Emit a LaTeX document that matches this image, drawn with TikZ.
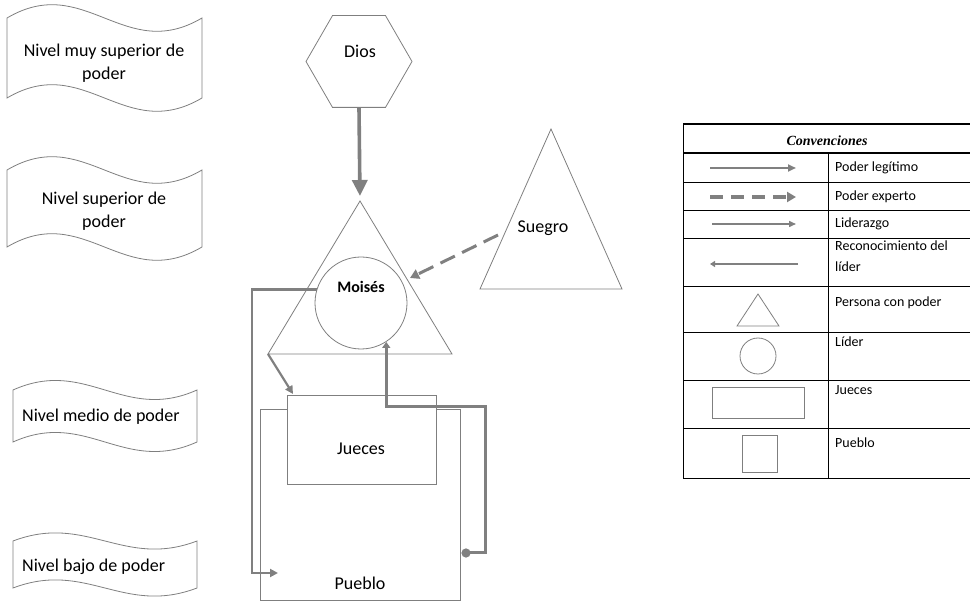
\documentclass[tikz,border=0pt]{standalone}
\usepackage{fontspec}
\setmainfont{Carlito}
\newfontfamily\serifhead{Liberation Serif}
\usetikzlibrary{arrows.meta,shapes.geometric}

\definecolor{linegray}{HTML}{7F7F7F}
\definecolor{arrowgray}{HTML}{808080}

% banner with wavy top and bottom edges: x1, x2, ytop, ybot, wave control offset
\newcommand\tapepath[5]{%
  \draw[outline] (#1,#3) .. controls ({#1+0.4*(#2-#1)},{#3-#5}) and ({#1+0.6*(#2-#1)},{#3+#5}) .. (#2,#3)
    -- (#2,#4) .. controls ({#1+0.6*(#2-#1)},{#4+#5}) and ({#1+0.4*(#2-#1)},{#4-#5}) .. (#1,#4) -- cycle;}

\begin{document}
\begin{tikzpicture}[x=1pt,y=-1pt,
  outline/.style={draw=linegray, line width=0.8pt},
  big/.style={font=\fontsize{18}{23}\selectfont, inner sep=0pt},
  small/.style={font=\fontsize{14}{21}\selectfont, inner sep=0pt, anchor=west},
  heavy/.style={draw=arrowgray, line width=3.6pt, -{Triangle[length=16pt,width=15pt]}},
  legit/.style={draw=arrowgray, line width=2.2pt, -{Triangle[length=8pt,width=8pt]}},
  expert/.style={draw=arrowgray, line width=3pt, dash pattern=on 16pt off 8pt, -{Triangle[length=9pt,width=10pt]}},
  lead/.style={draw=arrowgray, line width=2.2pt, -{Triangle[length=8pt,width=8pt]}},
  recog/.style={draw=arrowgray, line width=3pt, {Circle[length=9pt]}-{Triangle[length=6pt,width=8pt]}},
  gridline/.style={draw=black, line width=0.9pt}
]
\useasboundingbox (0,0) rectangle (970,601);

% ---- power levels
\tapepath{7}{202}{18}{98}{46}
\node[big, align=center] (lvl1) at (104,63.5) {Nivel muy superior de\\poder};
\tapepath{7}{202}{170}{247}{46}
\node[big, align=center] (lvl2) at (104,211) {Nivel superior de\\poder};
\tapepath{13}{197}{390}{442}{33}
\node[big, anchor=west] (lvl3) at (22,417) {Nivel medio de poder};
\tapepath{13}{197}{541}{588}{28}
\node[big, anchor=west] (lvl4) at (22,567) {Nivel bajo de poder};

% ---- Dios
\node[outline, regular polygon, regular polygon sides=6, minimum size=106pt, inner sep=0pt] (dios) at (359,61.5) {};
\node[big] (dios-t) at (360,51) {Dios};

% ---- person with power and the leader inside it
\draw[outline] (360,201) -- (452,354) -- (268,354) -- cycle;
\coordinate (tri-apex) at (360,201);
\coordinate (tri-left) at (268,354);
\coordinate (tri-side) at (410,278);
\node[outline, circle, minimum size=92pt, inner sep=0pt] (moises) at (361,303) {};
\node[font=\fontsize{16}{19}\selectfont\bfseries, inner sep=0pt] (moises-t) at (361,287) {Moisés};

% ---- Suegro
\draw[outline] (551,129) -- (622,289) -- (480,289) -- cycle;
\node[big] (suegro) at (543,228) {Suegro};
\coordinate (suegro-side) at (498,235);

% ---- Pueblo and Jueces
\node[outline, rectangle, minimum width=200pt, minimum height=191pt, inner sep=0pt] (pueblo) at (360,504.5) {};
\node[big] (pueblo-t) at (360,583) {Pueblo};
\node[outline, rectangle, fill=white, minimum width=149pt, minimum height=89pt, inner sep=0pt] (jueces) at (361.5,439.5) {};
\node[big] (jueces-t) at (361,449) {Jueces};

% ---- relations
\coordinate (jueces-in) at (293,394);
\coordinate (lead-bottom) at (252,573);
\coordinate (lead-end) at (278,573);
\coordinate (recon-start) at (461.5,553);
\coordinate (recon-corner) at (485,407);

\draw[heavy, shorten >=5pt] (dios.south) -- (tri-apex);
\draw[legit] (tri-left) -- (jueces-in);
\draw[expert] (suegro-side) -- (tri-side);
\draw[lead] (moises.163) -| (lead-bottom) -- (lead-end);
\draw[recog] (recon-start) -| (recon-corner) -| (moises.-57);

% ---- legend table
\draw[draw=black, line width=1.8pt] (683,124) -- (972,124);
\draw[draw=black, line width=1.4pt] (683,153) -- (972,153);
\foreach \yy in {182,210,238,286,332,380,428,478}
  \draw[gridline] (683,\yy) -- (972,\yy);
\draw[gridline] (683,124) -- (683,478);
\draw[gridline] (828,153) -- (828,478);

\node[font=\serifhead\bfseries\itshape\fontsize{14}{17}\selectfont, inner sep=0pt] (conv) at (827,141) {Convenciones};

\coordinate (lg-a) at (710,168);  \coordinate (lg-b) at (796,168);
\coordinate (ex-a) at (710,197);  \coordinate (ex-b) at (796,197);
\coordinate (ld-a) at (712,224);  \coordinate (ld-b) at (796,224);
\coordinate (rc-a) at (798,264);  \coordinate (rc-b) at (710,264);
\draw[draw=arrowgray, line width=2pt, -{Triangle[length=8pt,width=7pt]}] (lg-a) -- (lg-b);
\draw[draw=arrowgray, line width=3.2pt, dash pattern=on 13pt off 8pt, -{Triangle[length=9pt,width=10pt]}] (ex-a) -- (ex-b);
\draw[draw=arrowgray, line width=1.5pt, -{Triangle[length=7pt,width=6pt]}] (ld-a) -- (ld-b);
\draw[draw=arrowgray, line width=2.5pt, -{Triangle[length=5pt,width=6pt]}] (rc-a) -- (rc-b);

\draw[outline] (758,294) -- (779,326) -- (737,326) -- cycle;
\node[outline, circle, minimum size=36pt, inner sep=0pt] (lg-circ) at (758,356) {};
\node[outline, rectangle, minimum width=92pt, minimum height=31pt, inner sep=0pt] (lg-rect) at (758,402.5) {};
\node[outline, rectangle, minimum width=35pt, minimum height=37pt, inner sep=0pt] (lg-sq) at (759.5,453.5) {};

\node[small] (t1) at (835,168) {Poder legítimo};
\node[small] (t2) at (835,197) {Poder experto};
\node[small] (t3) at (835,224) {Liderazgo};
\node[small, align=left] (t4) at (835,256.5) {Reconocimiento del\\líder};
\node[small] (t5) at (835,303) {Persona con poder};
\node[small] (t6) at (835,342) {Líder};
\node[small] (t7) at (835,390) {Jueces};
\node[small] (t8) at (835,443) {Pueblo};
\end{tikzpicture}
\end{document}
